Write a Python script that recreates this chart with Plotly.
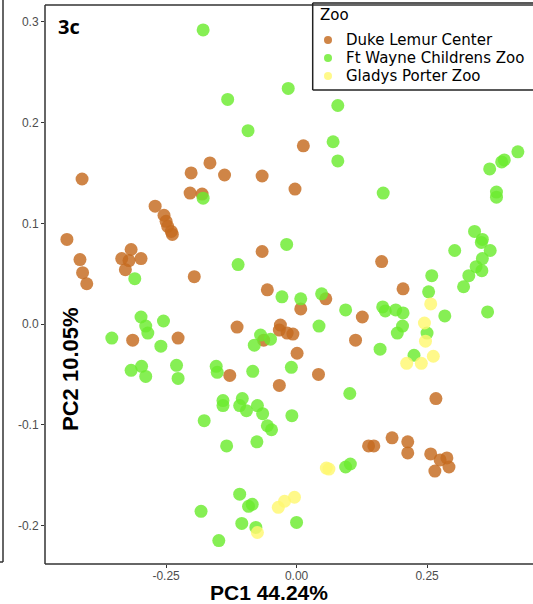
import plotly.graph_objects as go

zoos = ["Duke Lemur Center", "Ft Wayne Childrens Zoo", "Gladys Porter Zoo"]

duke_pc1 = [-0.411, 0.013, -0.166, -0.202, -0.138, -0.066, -0.003, -0.204, -0.181, -0.440,
            -0.415, -0.410, -0.402, -0.317, -0.335, -0.321, -0.298, -0.328, -0.271, -0.254,
            -0.250, -0.247, -0.240, -0.238, -0.314, -0.227, -0.196, -0.066, -0.056, 0.008,
            0.056, 0.126, -0.114, -0.031, -0.033, -0.018, -0.007, -0.063, 0.113, 0.001,
            -0.128, 0.042, -0.033, 0.163, 0.204, 0.267, 0.138, 0.148, 0.183, 0.213,
            0.213, 0.257, 0.275, 0.288, 0.292, 0.265]
duke_pc2 = [0.144, 0.177, 0.160, 0.150, 0.148, 0.147, 0.134, 0.130, 0.129, 0.084,
            0.064, 0.051, 0.040, 0.074, 0.065, 0.063, 0.065, 0.054, 0.117, 0.108,
            0.102, 0.097, 0.092, 0.089, -0.016, -0.014, 0.047, 0.072, 0.034, 0.015,
            0.025, 0.007, -0.003, -0.001, -0.006, -0.009, -0.010, -0.016, -0.016, -0.029,
            -0.051, -0.050, -0.061, 0.062, 0.035, -0.074, -0.121, -0.121, -0.113, -0.117,
            -0.128, -0.129, -0.135, -0.133, -0.142, -0.146]

ftw_pc1 = [-0.179, -0.016, -0.132, 0.079, -0.093, 0.070, 0.079, -0.179, 0.166, 0.370,
           0.393, 0.398, 0.424, 0.383, 0.383, -0.310, -0.298, -0.289, -0.285, -0.255,
           -0.354, -0.260, -0.297, -0.317, -0.289, -0.230, -0.227, -0.019, -0.112, -0.028,
           0.008, 0.048, 0.094, 0.043, -0.069, -0.050, -0.081, -0.154, -0.152, -0.084,
           -0.010, 0.102, 0.341, 0.356, 0.354, 0.371, 0.303, 0.356, 0.344, 0.355,
           0.330, 0.320, 0.259, 0.253, 0.366, 0.284, 0.165, 0.170, 0.190, 0.204,
           0.203, 0.193, 0.250, 0.160, 0.225, -0.141, -0.141, -0.104, -0.109, -0.096,
           -0.075, -0.065, -0.056, -0.048, -0.009, -0.177, -0.134, -0.076, 0.094, 0.103,
           -0.109, -0.092, -0.085, -0.183, -0.105, -0.078, 0.000, -0.149]
ftw_pc2 = [0.292, 0.234, 0.223, 0.217, 0.192, 0.181, 0.162, 0.125, 0.130, 0.154,
           0.161, 0.163, 0.171, 0.131, 0.126, 0.045, 0.007, -0.002, -0.009, 0.003,
           -0.014, -0.022, -0.042, -0.046, -0.052, -0.041, -0.054, 0.079, 0.059, 0.027,
           0.025, 0.030, 0.014, -0.002, -0.011, -0.015, -0.021, -0.042, -0.048, -0.047,
           -0.043, -0.069, 0.092, 0.084, 0.081, 0.073, 0.073, 0.065, 0.057, 0.053,
           0.048, 0.037, 0.048, 0.032, 0.012, 0.008, 0.017, 0.013, 0.014, 0.011,
           -0.002, -0.009, -0.009, -0.025, -0.031, -0.076, -0.081, -0.074, -0.081, -0.086,
           -0.081, -0.089, -0.101, -0.105, -0.091, -0.096, -0.121, -0.117, -0.142, -0.139,
           -0.169, -0.181, -0.179, -0.186, -0.198, -0.202, -0.197, -0.215]

gp_pc1 = [0.257, 0.245, 0.247, 0.262, 0.211, 0.239, 0.057, 0.062, -0.035, -0.023, -0.004, -0.075]
gp_pc2 = [0.020, 0.001, -0.017, -0.032, -0.039, -0.039, -0.143, -0.144, -0.182, -0.176, -0.172, -0.207]

x_ticks = [-0.25, 0.0, 0.25]
x_ticktext = ["-0.25", "0.00", "0.25"]
y_ticks = [0.3, 0.2, 0.1, 0.0, -0.1, -0.2]
y_ticktext = ["0.3", "0.2", "0.1", "0.0", "-0.1", "-0.2"]

colors = ["#C46A1E", "#6BEB2E", "#FFF870"]

fig = go.Figure()
for name, xs, ys, c in zip(zoos, [duke_pc1, ftw_pc1, gp_pc1], [duke_pc2, ftw_pc2, gp_pc2], colors):
    fig.add_trace(go.Scatter(x=xs, y=ys, mode="markers", name=name, showlegend=False,
                             marker=dict(size=13, color=c, opacity=0.82, line=dict(width=0))))

fig.update_layout(
    width=533, height=604,
    margin=dict(l=45, r=0, t=5, b=40, autoexpand=False),
    paper_bgcolor="white", plot_bgcolor="white",
    font=dict(family="Liberation Sans, Arial, sans-serif", color="#4D4D4D"),
    showlegend=False,
    xaxis=dict(range=[-0.482, 0.453], tickvals=x_ticks, ticktext=x_ticktext,
               showgrid=False, zeroline=False, showline=False,
               ticks="outside", ticklen=3, ticklabelstandoff=-2,
               tickcolor="#333333", tickfont=dict(size=12, color="#4D4D4D")),
    yaxis=dict(range=[-0.2383, 0.3168], tickvals=y_ticks, ticktext=y_ticktext,
               showgrid=False, zeroline=False, showline=False,
               ticks="outside", ticklen=3,
               tickcolor="#333333", tickfont=dict(size=12, color="#4D4D4D")),
)

# helpers to convert pixel positions of decorations to paper coordinates
L, T, W, H = 45, 5, 488, 559
def px(x):
    return (x - L) / W
def py(y):
    return (T + H - y) / H

def hline(x0, x1, y, color="#333333"):
    fig.add_shape(type="line", xref="paper", yref="paper", x0=px(x0), x1=px(x1), y0=py(y), y1=py(y),
                  line=dict(color=color, width=1.5), layer="above")

def vline(x, y0, y1, color="#333333"):
    fig.add_shape(type="line", xref="paper", yref="paper", x0=px(x), x1=px(x), y0=py(y0), y1=py(y1),
                  line=dict(color=color, width=1.5), layer="above")

# panel border (right side runs past the image edge)
hline(45, 533, 5)
hline(45, 533, 564)
vline(45, 5, 564)

# legend box drawn by hand so its spacing matches
hline(312.7, 533, 3, "#222222")
hline(312.7, 533, 90, "#222222")
vline(312.7, 3, 90, "#222222")
fig.add_annotation(text="Zoo", xref="paper", yref="paper", x=px(318), y=py(15),
                   xanchor="left", yanchor="middle", showarrow=False,
                   font=dict(family="DejaVu Sans, sans-serif", size=15, color="black"))
row_y = [40, 58, 76]
for name, c, ry in zip(zoos, colors, row_y):
    fig.add_shape(type="circle", xref="paper", yref="paper", xsizemode="pixel", ysizemode="pixel",
                  xanchor=px(328), yanchor=py(ry), x0=-4, x1=4, y0=-4, y1=4,
                  fillcolor=c, opacity=0.82, line=dict(width=0), layer="above")
    fig.add_annotation(text=name, xref="paper", yref="paper", x=px(344), y=py(ry),
                       xanchor="left", yanchor="middle", showarrow=False,
                       font=dict(family="DejaVu Sans, sans-serif", size=15, color="black"))

fig.add_annotation(text="<b>3c</b>", xref="paper", yref="paper", x=0.022, y=0.99,
                   xanchor="left", yanchor="top", showarrow=False,
                   font=dict(family="Open Sans, sans-serif", size=20, color="black"))
fig.add_annotation(text="<b>PC1 44.24%</b>", xref="paper", yref="paper", x=px(269), y=py(592),
                   xanchor="center", yanchor="middle", showarrow=False,
                   font=dict(family="Liberation Sans, Arial, sans-serif", size=21, color="black"))
fig.add_annotation(text="<b>PC2 10.05%</b>", xref="paper", yref="paper", x=px(70), y=py(369),
                   xanchor="center", yanchor="middle", showarrow=False, textangle=-90,
                   font=dict(family="Liberation Sans, Arial, sans-serif", size=22, color="black"))

# partial border of neighbouring panel on the left
vline(3, -5, 562)
hline(-5, 3, 562)

fig.write_html("out.html", config={"displayModeBar": False},
               post_script="document.body.style.margin='0';document.body.style.overflow='hidden';")
